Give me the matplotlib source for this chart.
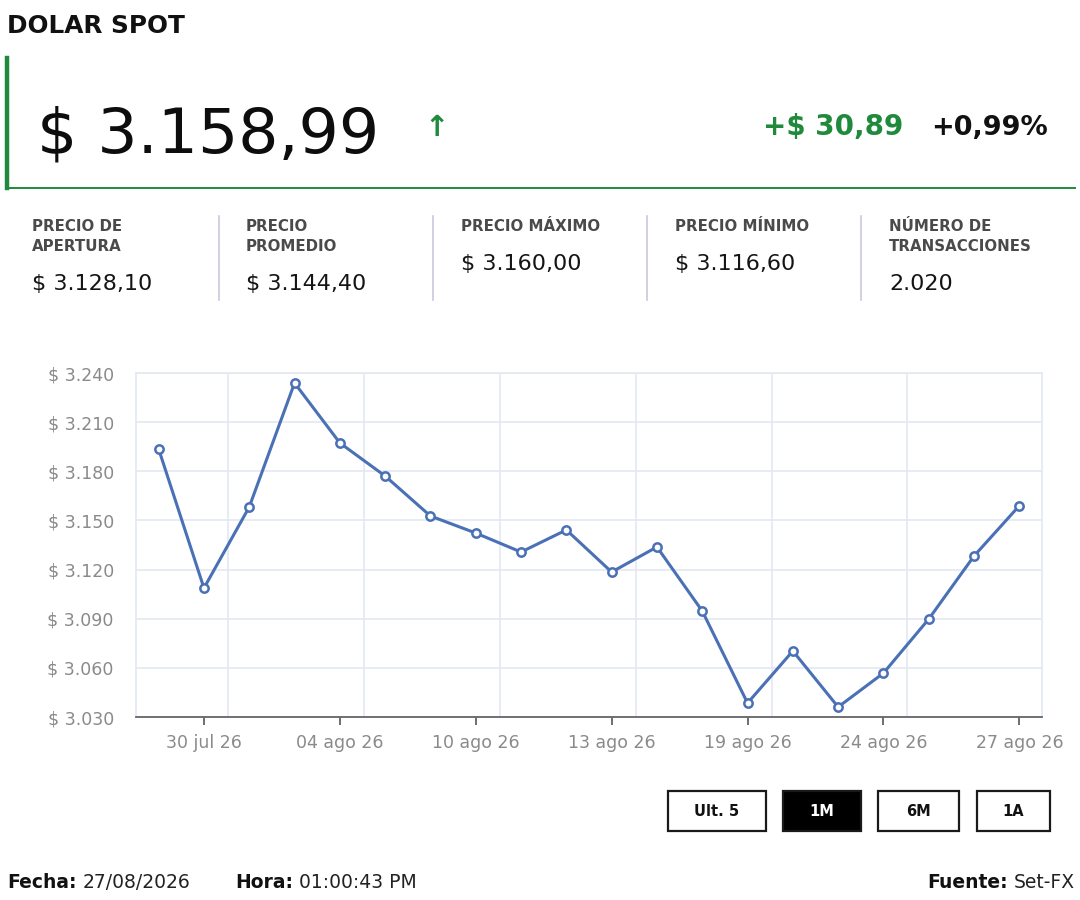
import matplotlib
matplotlib.use("Agg")
import matplotlib.pyplot as plt
from matplotlib.patches import Rectangle
from matplotlib.lines import Line2D

plt.rcParams['font.family'] = ['DejaVu Sans']

# ---------------- data ----------------
dates = ["29 jul 26", "30 jul 26", "31 jul 26", "03 ago 26", "04 ago 26", "05 ago 26",
         "06 ago 26", "10 ago 26", "11 ago 26", "12 ago 26", "13 ago 26", "14 ago 26",
         "18 ago 26", "19 ago 26", "20 ago 26", "21 ago 26", "24 ago 26", "25 ago 26",
         "26 ago 26", "27 ago 26"]
prices = [3193.6, 3108.7, 3158.2, 3233.9, 3197.3, 3177.1, 3152.7, 3142.3, 3130.7, 3144.2,
          3118.5, 3133.8, 3094.7, 3038.5, 3070.3, 3036.1, 3056.8, 3089.8, 3128.3, 3158.99]
tick_idx = [1, 4, 7, 10, 13, 16, 19]
y_ticks = [3030, 3060, 3090, 3120, 3150, 3180, 3210, 3240]

title = "DOLAR SPOT"
price_text = "$ 3.158,99"
change_text = "+$ 30,89"
pct_text = "+0,99%"
stat_labels = [["PRECIO DE", "APERTURA"], ["PRECIO", "PROMEDIO"], ["PRECIO MÁXIMO"],
               ["PRECIO MÍNIMO"], ["NÚMERO DE", "TRANSACCIONES"]]
stat_values = ["$ 3.128,10", "$ 3.144,40", "$ 3.160,00", "$ 3.116,60", "2.020"]
buttons = ["Ult. 5", "1M", "6M", "1A"]
active_button = "1M"
footer_left = [("Fecha:", "27/08/2026"), ("Hora:", "01:00:43 PM")]
footer_right = ("Fuente:", "Set-FX")

GREEN = "#1f8a3c"
LINE = "#4a70b5"

W, H = 1080, 900
fig = plt.figure(figsize=(W / 100, H / 100), dpi=100)
fig.patch.set_facecolor("white")

def fx(x):
    return x / W

def fy(y):
    return 1 - y / H

# ---------------- header ----------------
fig.text(fx(7), fy(33), title, fontsize=17.8, fontweight="bold", color="#111111", va="baseline")
fig.add_artist(Line2D([fx(7), fx(7)], [fy(58), fy(188)], color=GREEN, lw=3.2,
                      transform=fig.transFigure))
fig.add_artist(Line2D([fx(5.5), fx(1075)], [fy(188), fy(188)], color=GREEN, lw=1.4,
                      transform=fig.transFigure))
fig.text(fx(37), fy(153), price_text, fontsize=45.5, color="#0d0d0d", va="baseline")
fig.text(fx(437), fy(136), "↑", fontsize=21, fontweight="bold", color=GREEN,
         ha="center", va="baseline")
fig.text(fx(903), fy(135), change_text, fontsize=20, fontweight="bold", color=GREEN,
         ha="right", va="baseline")
fig.text(fx(1048), fy(135), pct_text, fontsize=19.5, fontweight="bold", color="#111111",
         ha="right", va="baseline")

col_x = [32, 246, 461, 675, 889]
for i, (lab, val) in enumerate(zip(stat_labels, stat_values)):
    for j, line in enumerate(lab):
        fig.text(fx(col_x[i]), fy(231 + 20 * j), line, fontsize=10.8, fontweight="bold",
                 color="#4a4a4a", va="baseline")
    vy = 290 if len(lab) == 2 else 270
    fig.text(fx(col_x[i]), fy(vy), val, fontsize=16, color="#151515", va="baseline")
for sx in [219, 433, 647, 861]:
    fig.add_artist(Line2D([fx(sx), fx(sx)], [fy(216), fy(300)], color="#c9c9e0", lw=1.2,
                          transform=fig.transFigure))

# ---------------- chart ----------------
ax = fig.add_axes([fx(136), fy(717), fx(1042) - fx(136), fy(373) - fy(717)])
x = list(range(len(prices)))
ax.plot(x, prices, color=LINE, lw=2.2, marker="o", markersize=6,
        markerfacecolor="white", markeredgecolor=LINE, markeredgewidth=1.8, zorder=3)
ax.set_xlim(-0.5, len(prices) - 0.5)
ax.set_ylim(y_ticks[0], y_ticks[-1])
ax.set_yticks(y_ticks)
ax.set_yticklabels(["$ " + f"{v:,}".replace(",", ".") for v in y_ticks])
ax.set_xticks(tick_idx)
ax.set_xticklabels([dates[i] for i in tick_idx])
ax.tick_params(axis="y", length=0, pad=16, labelsize=12.5, labelcolor="#8a8a8a")
ax.tick_params(axis="x", length=6, width=1.2, color="#555555", pad=6, labelsize=12.5,
               labelcolor="#8a8a8a")
ax.grid(axis="y", color="#e3e8f2", lw=1.2)
for i in tick_idx[:-1]:
    ax.axvline(i + 0.53, color="#e3e8f2", lw=1.2, zorder=0)
for s in ["top", "left", "right"]:
    ax.spines[s].set_color("#e3e8f2")
    ax.spines[s].set_linewidth(1.2)
ax.spines["bottom"].set_color("#666666")
ax.spines["bottom"].set_linewidth(1.3)
ax.set_axisbelow(True)

# ---------------- buttons ----------------
btn_boxes = [(668, 766), (783, 861), (878, 959), (977, 1050)]
for name, (x0, x1) in zip(buttons, btn_boxes):
    active = name == active_button
    fig.add_artist(Rectangle((fx(x0), fy(831)), fx(x1) - fx(x0), fy(791) - fy(831),
                             transform=fig.transFigure, facecolor="black" if active else "white",
                             edgecolor="#1a1a1a", lw=1.6))
    fig.text(fx((x0 + x1) / 2), fy(811), name, fontsize=10.5, fontweight="bold",
             color="white" if active else "#111111", ha="center", va="center")

# ---------------- footer ----------------
fig.canvas.draw()
renderer = fig.canvas.get_renderer()

def pair(x_px, bold, regular, align="left"):
    t1 = fig.text(0, fy(888), bold, fontsize=13.5, fontweight="bold", color="#111111",
                  va="baseline")
    t2 = fig.text(0, fy(888), regular, fontsize=13.5, color="#222222", va="baseline")
    w1 = t1.get_window_extent(renderer).width
    w2 = t2.get_window_extent(renderer).width
    gap = 6
    if align == "left":
        start = x_px
    else:
        start = x_px - (w1 + gap + w2)
    t1.set_x(fx(start))
    t2.set_x(fx(start + w1 + gap))

pair(7, *footer_left[0])
pair(235, *footer_left[1])
pair(1075, *footer_right, align="right")

fig.savefig("out.png", dpi=100, facecolor="white")
